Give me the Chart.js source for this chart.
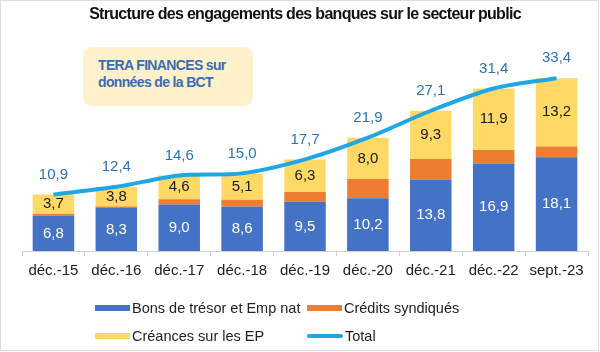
<!DOCTYPE html>
<html>
<head>
<meta charset="utf-8">
<script src="https://cdn.jsdelivr.net/npm/chart.js@4"></script>
<style>
  body { margin: 0; background: #fff; font-family: "Liberation Sans", Arial, sans-serif; }
  #wrap { position: relative; width: 600px; height: 352px; }
  #frame { position: absolute; left: 0; top: 0; width: 597px; height: 349px; border: 1px solid #dcdcdc; pointer-events: none; }
  #title { position: absolute; left: 0; top: 5px; width: 610px; text-align: center; font-weight: bold; font-size: 16px; letter-spacing: -0.7px; color: #111; }
  #note { position: absolute; left: 83px; top: 47px; width: 155px; height: 49px; padding: 10px 0 0 15px; border-radius: 9px; background: #fff1cc; color: #3a6db4; font-weight: bold; font-size: 14px; line-height: 17px; letter-spacing: -0.65px; }
  #legend { position: absolute; left: 95px; top: 294px; display: grid; grid-template-columns: 212px 200px; grid-auto-rows: 28px; font-size: 14.5px; color: #222; }
  .item { display: flex; align-items: center; }
  .sw { width: 35px; height: 6px; margin-right: 2px; }
  .ln { width: 36px; height: 4px; border-radius: 2px; margin-right: 2px; }
</style>
</head>
<body>
<div id="wrap">
  <canvas id="myChart" width="600" height="352"></canvas>
  <div id="title">Structure des engagements des banques sur le secteur public</div>
  <div id="note">TERA FINANCES sur<br>données de la BCT</div>
  <div id="legend"></div>
  <div id="frame"></div>
</div>
<script>
// x-axis labels
const labels = ["déc.-15", "déc.-16", "déc.-17", "déc.-18", "déc.-19", "déc.-20", "déc.-21", "déc.-22", "sept.-23"];

// Bons de trésor et Emp nat
const bons = [6.8, 8.3, 9.0, 8.6, 9.5, 10.2, 13.8, 16.9, 18.1];
// Crédits syndiqués
const credits = [0.4, 0.3, 1.0, 1.3, 1.9, 3.7, 4.0, 2.6, 2.1];
// Créances sur les EP
const creances = [3.7, 3.8, 4.6, 5.1, 6.3, 8.0, 9.3, 11.9, 13.2];
// Total
const total = [10.9, 12.4, 14.6, 15.0, 17.7, 21.9, 27.1, 31.4, 33.4];

const fmt = (v) => v.toFixed(1).replace(".", ",");

// draws the value labels on the bars and above the line
const valueLabels = {
  id: "valueLabels",
  afterDatasetsDraw(chart) {
    const ctx = chart.ctx;
    ctx.save();
    ctx.font = "15px 'Liberation Sans', Arial, sans-serif";
    ctx.textAlign = "center";
    ctx.textBaseline = "middle";
    chart.data.datasets.forEach((ds, i) => {
      if (!ds.labelColor) return;
      const meta = chart.getDatasetMeta(i);
      ctx.fillStyle = ds.labelColor;
      meta.data.forEach((el, j) => {
        const y = ds.type === "line" ? el.y - 20 : (el.y + el.base) / 2;
        ctx.fillText(fmt(ds.data[j]), el.x, y);
      });
    });
    ctx.restore();
  },
};

const ctx = document.getElementById("myChart").getContext("2d");
const myChart = new Chart(ctx, {
  data: {
    labels: labels,
    datasets: [
      {
        type: "line",
        label: "Total",
        data: total,
        borderColor: "#1ea7e4",
        backgroundColor: "#1ea7e4",
        borderWidth: 4,
        pointRadius: 0,
        tension: 0.3,
        stack: "total",
        order: 0,
        labelColor: "#2f72b4",
      },
      {
        type: "bar",
        label: "Bons de trésor et Emp nat",
        data: bons,
        backgroundColor: "#4472c4",
        stack: "bars",
        order: 1,
        labelColor: "#ffffff",
      },
      {
        type: "bar",
        label: "Crédits syndiqués",
        data: credits,
        backgroundColor: "#ed7d31",
        stack: "bars",
        order: 1,
      },
      {
        type: "bar",
        label: "Créances sur les EP",
        data: creances,
        backgroundColor: "#ffd966",
        stack: "bars",
        order: 1,
        labelColor: "#1a1a1a",
      },
    ],
  },
  options: {
    responsive: false,
    animation: false,
    devicePixelRatio: 1,
    layout: { padding: { left: 22, right: 12, top: 44, bottom: 66 } },
    datasets: { bar: { barPercentage: 1, categoryPercentage: 0.66 } },
    scales: {
      x: {
        stacked: true,
        grid: { offset: true, drawOnChartArea: false, drawTicks: true, tickLength: 5, color: "#d0d0d0" },
        border: { color: "#d0d0d0" },
        ticks: { color: "#222", font: { size: 15, family: "'Liberation Sans', Arial, sans-serif" }, padding: 6 },
      },
      y: { stacked: true, display: false, min: 0, max: 40 },
    },
    plugins: {
      legend: { display: false },
      tooltip: { enabled: false },
    },
  },
  plugins: [valueLabels],
});

// html legend, two rows of two
const legendOrder = [1, 2, 3, 0];
const legendBox = document.getElementById("legend");
legendOrder.forEach((i) => {
  const ds = myChart.data.datasets[i];
  const item = document.createElement("div");
  item.className = "item";
  const sw = document.createElement("span");
  sw.className = ds.type === "line" ? "ln" : "sw";
  sw.style.background = ds.backgroundColor;
  item.appendChild(sw);
  item.appendChild(document.createTextNode(ds.label));
  legendBox.appendChild(item);
});
</script>
</body>
</html>
